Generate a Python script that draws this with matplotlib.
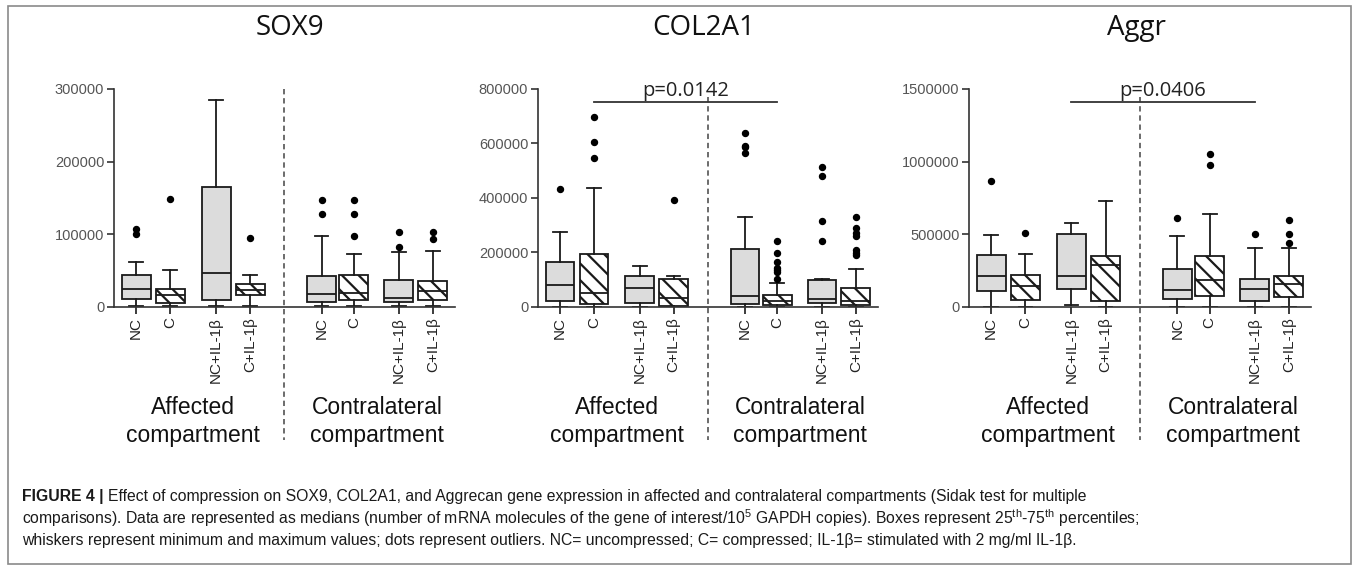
import matplotlib
matplotlib.use('Agg')
import matplotlib.pyplot as plt
import matplotlib.patches as mpatches

# ---- data ----
labels = ['NC', 'C', 'NC+IL-1β', 'C+IL-1β', 'NC', 'C', 'NC+IL-1β', 'C+IL-1β']

sox9_lo = [1000, 1000, 1000, 1000, 1000, 1000, 1000, 1000]
sox9_q1 = [11500, 6000, 10100, 16100, 6900, 10100, 6900, 9200]
sox9_med = [25300, 16100, 47400, 23900, 17500, 19800, 12900, 22100]
sox9_q3 = [43700, 25300, 165700, 31300, 42800, 44600, 36800, 36400]
sox9_hi = [62000, 51500, 284400, 43700, 97600, 72300, 75500, 76900]
sox9_out = [[101000, 108000], [148600], [], [94300],
            [147300, 127500], [146800, 127500, 97600],
            [103500, 82400], [103500, 93000]]

col2_lo = [0, 0, 0, 0, 0, 0, 0, 0]
col2_q1 = [22000, 12200, 14700, 2400, 12200, 8500, 15900, 8500]
col2_med = [79400, 52500, 70800, 34200, 39100, 22000, 28100, 22000]
col2_q3 = [163600, 195400, 112300, 103800, 211200, 42700, 100100, 69600]
col2_hi = [274700, 437100, 150200, 113500, 328400, 87900, 103800, 140400]
col2_out = [[433500], [698400, 604400, 545800], [], [393200],
            [639800, 590000, 588000, 565300],
            [241800, 197800, 166100, 144100, 134300, 127000, 101300],
            [515300, 481100, 316200, 241800],
            [329700, 290600, 272300, 261300, 210000, 189300, 199000]]

aggr_lo = [0, 0, 16000, 0, 0, 0, 0, 0]
aggr_q1 = [109900, 50400, 125900, 38900, 57200, 73300, 41200, 68700]
aggr_med = [213000, 142000, 213000, 286200, 119100, 187800, 125900, 160300]
aggr_q3 = [354900, 217500, 499200, 348100, 261000, 348100, 190100, 213000]
aggr_hi = [492300, 366400, 579400, 725900, 485500, 641200, 405300, 407600]
aggr_out = [[870200], [510700], [], [],
            [609100], [1053400, 980100], [503800], [595400, 503800, 437400]]

titles = ['SOX9', 'COL2A1', 'Aggr']
ymax = [300000, 800000, 1500000]
yticks = [[0, 100000, 200000, 300000],
          [0, 200000, 400000, 600000, 800000],
          [0, 500000, 1000000, 1500000]]
p_texts = [None, 'p=0.0142', 'p=0.0406']
p_pairs = [None, (1, 5), (2, 6)]   # box indices joined by the p bar

# ---- fonts ----
cap_font = 'Liberation Sans'
cap_size = 11.3
plt.rcParams['font.family'] = ['Liberation Sans', 'DejaVu Sans']
plt.rcParams['mathtext.fontset'] = 'custom'
plt.rcParams['mathtext.rm'] = cap_font
plt.rcParams['hatch.linewidth'] = 1.6
plt.rcParams['hatch.color'] = '#111111'

pos = [1, 2, 3.35, 4.35, 6.45, 7.4, 8.72, 9.72]
div_x = 5.35
fill = ['#dcdcdc', 'white', '#dcdcdc', 'white'] * 2
hatch = [None, '\\\\', None, '\\\\'] * 2

fig = plt.figure(figsize=(13.54, 5.69), dpi=100)

axes_pos = [[0.0842, 0.4605, 0.2518, 0.3831],
            [0.3973, 0.4605, 0.2511, 0.3831],
            [0.7157, 0.4605, 0.2526, 0.3831]]
title_x = [0.2142, 0.5196, 0.8395]

all_data = [
    (sox9_lo, sox9_q1, sox9_med, sox9_q3, sox9_hi, sox9_out),
    (col2_lo, col2_q1, col2_med, col2_q3, col2_hi, col2_out),
    (aggr_lo, aggr_q1, aggr_med, aggr_q3, aggr_hi, aggr_out),
]

for k in range(3):
    ax = fig.add_axes(axes_pos[k])
    lo, q1, med, q3, hi, out = all_data[k]
    stats = []
    for i in range(8):
        stats.append({'whislo': lo[i], 'q1': q1[i], 'med': med[i],
                      'q3': q3[i], 'whishi': hi[i], 'fliers': out[i]})
    bp = ax.bxp(stats, positions=pos, widths=0.85, capwidths=0.4,
                patch_artist=True, showfliers=True,
                boxprops=dict(linewidth=1.3, edgecolor='#1a1a1a'),
                medianprops=dict(color='#1a1a1a', linewidth=1.3),
                whiskerprops=dict(color='#1a1a1a', linewidth=1.3),
                capprops=dict(color='#1a1a1a', linewidth=1.3),
                flierprops=dict(marker='o', markerfacecolor='black',
                                markeredgecolor='black', markersize=4.3))
    for i, b in enumerate(bp['boxes']):
        b.set_facecolor(fill[i])
        if hatch[i]:
            b.set_hatch(hatch[i])

    ax.set_xlim(0.35, 10.37)
    ax.set_ylim(0, ymax[k])
    ax.set_yticks(yticks[k])
    ax.set_yticklabels([str(v) for v in yticks[k]])
    ax.set_xticks(pos)
    ax.set_xticklabels(labels, rotation=90)
    for s in ['top', 'right']:
        ax.spines[s].set_visible(False)
    for s in ['left', 'bottom']:
        ax.spines[s].set_color('#333333')
        ax.spines[s].set_linewidth(1.2)
    ax.tick_params(axis='y', labelsize=10.5, labelcolor='#555555',
                   length=5, width=1.2, color='#333333', pad=2)
    ax.tick_params(axis='x', labelsize=11, labelcolor='#222222',
                   length=5, width=1.2, color='#1a1a1a', pad=2)

    trans = ax.get_xaxis_transform()
    top = 1.0 if k == 0 else 0.965
    ax.plot([div_x, div_x], [top, -0.61], transform=trans, clip_on=False,
            color='#444444', linewidth=1.1, linestyle=(0, (3.5, 2.5)))

    if p_texts[k]:
        a, b = p_pairs[k]
        ax.plot([pos[a], pos[b]], [0.94, 0.94], transform=trans,
                clip_on=False, color='#333333', linewidth=1.3)
        ax.text((pos[a] + pos[b]) / 2, 0.945, p_texts[k], transform=trans,
                ha='center', va='bottom', fontsize=14.5,
                family=['Open Sans', 'DejaVu Sans'], color='#222222')

    ax.text((pos[0] + pos[3]) / 2, -0.525, 'Affected\ncompartment',
            transform=trans, ha='center', va='center', fontsize=16.5,
            linespacing=1.3, color='#111111')
    ax.text((pos[4] + pos[7]) / 2, -0.525, 'Contralateral\ncompartment',
            transform=trans, ha='center', va='center', fontsize=16.5,
            linespacing=1.3, color='#111111')

    fig.text(title_x[k], 0.951, titles[k], ha='center', va='center',
             fontsize=20, family=['Open Sans', 'DejaVu Sans'], color='#111111')

# frame round the whole figure
fig.patches.append(mpatches.Rectangle((0.0059, 0.0088), 0.9919, 0.9807,
                                      transform=fig.transFigure, fill=False,
                                      edgecolor='#8a8a8a', linewidth=1.2))

# caption
cap1 = ('Effect of compression on SOX9, COL2A1, and Aggrecan gene expression in '
        'affected and contralateral compartments (Sidak test for multiple')
cap2 = ('comparisons). Data are represented as medians (number of mRNA molecules '
        'of the gene of interest/10$^5$ GAPDH copies). Boxes represent '
        '25$^{\\mathrm{th}}$-75$^{\\mathrm{th}}$ percentiles;')
cap3 = ('whiskers represent minimum and maximum values; dots represent outliers. '
        'NC= uncompressed; C= compressed; IL-1β= stimulated with 2 mg/ml IL-1β.')

x0 = 22 / 1354
head = fig.text(x0, 1 - 497 / 569, 'FIGURE 4 |', ha='left', va='center',
                fontsize=cap_size, family=[cap_font, 'DejaVu Sans'],
                weight='bold', color='#1a1a1a')
r = fig.canvas.get_renderer()
bb = head.get_window_extent(renderer=r)
fig.text(bb.x1 / fig.bbox.width + 4 / 1354, 1 - 497 / 569, cap1, ha='left',
         va='center', fontsize=cap_size, family=[cap_font, 'DejaVu Sans'],
         color='#1a1a1a')
fig.text(x0, 1 - 518 / 569, cap2, ha='left', va='center', fontsize=cap_size,
         family=[cap_font, 'DejaVu Sans'], color='#1a1a1a')
fig.text(x0, 1 - 540 / 569, cap3, ha='left', va='center', fontsize=cap_size,
         family=[cap_font, 'DejaVu Sans'], color='#1a1a1a')

fig.savefig('out.png', dpi=100)
